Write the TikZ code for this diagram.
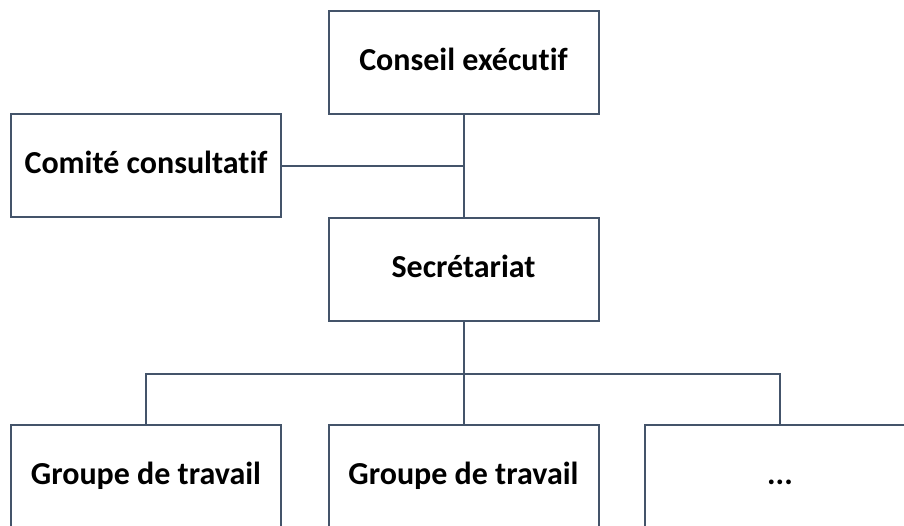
\documentclass[tikz,border=0pt]{standalone}
\usepackage{fontspec}
\setmainfont[Ligatures={NoCommon}]{Carlito}
\definecolor{linegray}{RGB}{68,84,106}

\begin{document}
\begin{tikzpicture}[x=1pt,y=-1pt,
    orgbox/.style={draw=linegray, line width=2pt, minimum width=270pt,
        minimum height=103pt, inner sep=0pt, text height=22pt, text depth=7pt,
        font=\fontsize{32}{36}\selectfont\bfseries},
    link/.style={draw=linegray, line width=2pt}]

    % --- Canvas ---
    \useasboundingbox (0,0) rectangle (904,525);

    % --- Boxes ---
    \node[orgbox] (conseil) at (463.5,62.5) {Conseil exécutif};
    \node[orgbox] (comite) at (146,165.5) {Comité consultatif};
    \node[orgbox] (secretariat) at (463.5,269.5) {Secrétariat};

    % Working groups (bottom row, cut off by the page edge)
    \node[orgbox] (groupeA) at (146,476.5) {Groupe de travail};
    \node[orgbox] (groupeB) at (463.5,476.5) {Groupe de travail};
    \node[orgbox] (groupeC) at (780,476.5) {...};

    % --- Connectors ---
    \coordinate (bus) at (463.5,374);
    \draw[link] (conseil.south) -- (secretariat.north); % trunk
    \draw[link] (comite.east) -- (comite.east -| conseil.south); % side link
    \draw[link] (secretariat.south) -- (bus);
    \draw[link] (groupeA.north) |- (bus) -| (groupeC.north); % bus line
    \draw[link] (groupeB.north) -- (bus);

\end{tikzpicture}
\end{document}
